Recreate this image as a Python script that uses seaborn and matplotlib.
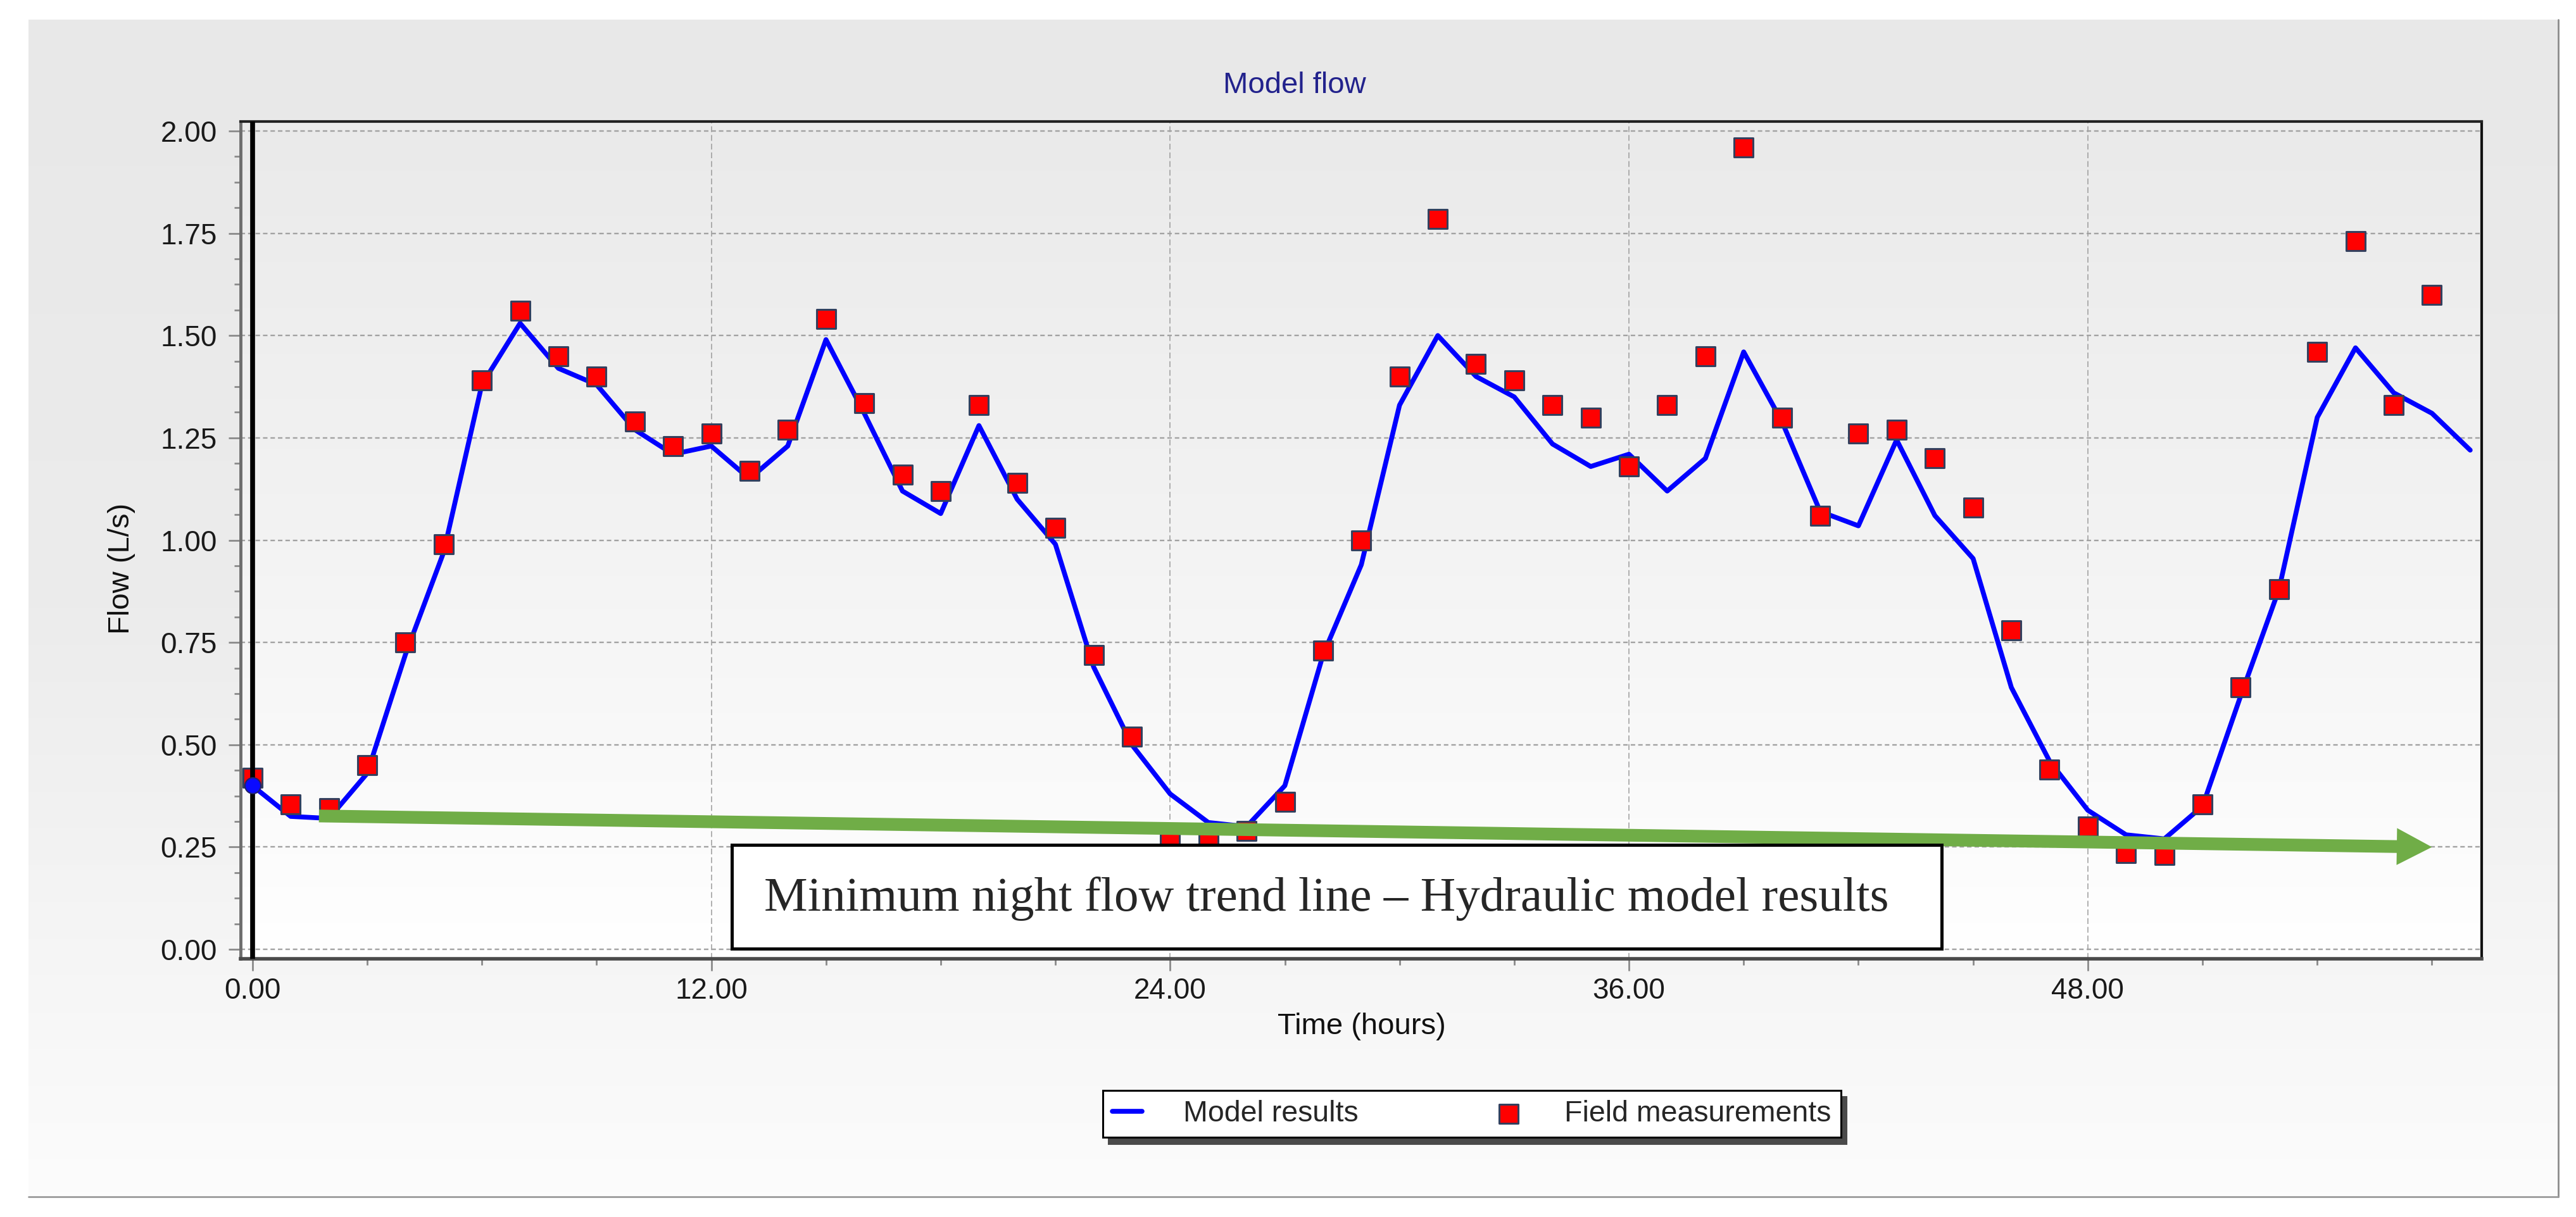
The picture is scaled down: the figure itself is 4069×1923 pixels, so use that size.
import numpy as np
import matplotlib
matplotlib.use("Agg")
import matplotlib.pyplot as plt
from matplotlib.patches import Rectangle, FancyArrowPatch
from matplotlib.colors import LinearSegmentedColormap
from matplotlib.ticker import MultipleLocator, FormatStrFormatter
import seaborn as sns

# Model results, hourly (L/s)
model_hours = list(range(59))
model_flow = [0.40, 0.325, 0.32, 0.43, 0.72, 0.97, 1.38, 1.53, 1.42, 1.38,
              1.27, 1.21, 1.23, 1.15, 1.23, 1.49, 1.31, 1.12, 1.065, 1.28,
              1.10, 0.99, 0.69, 0.50, 0.38, 0.31, 0.30, 0.40, 0.72, 0.94,
              1.33, 1.50, 1.40, 1.35, 1.235, 1.18, 1.21, 1.12, 1.20, 1.46,
              1.29, 1.07, 1.035, 1.245, 1.06, 0.955, 0.64, 0.46, 0.34, 0.28,
              0.27, 0.35, 0.62, 0.88, 1.30, 1.47, 1.36, 1.31, 1.22]

# Field measurements, hourly (L/s)
field_hours = list(range(58))
field_flow = [0.42, 0.355, 0.345, 0.45, 0.75, 0.99, 1.39, 1.56, 1.45, 1.40,
              1.29, 1.23, 1.26, 1.17, 1.27, 1.54, 1.335, 1.16, 1.12, 1.33,
              1.14, 1.03, 0.72, 0.52, 0.27, 0.27, 0.29, 0.36, 0.73, 1.00,
              1.40, 1.785, 1.43, 1.39, 1.33, 1.30, 1.18, 1.33, 1.45, 1.96,
              1.30, 1.06, 1.26, 1.27, 1.20, 1.08, 0.78, 0.44, 0.30, 0.235,
              0.23, 0.355, 0.64, 0.88, 1.46, 1.73, 1.33, 1.60]

# Minimum night flow trend line (start, end)
trend_hours = [1.74, 57.0]
trend_flow = [0.326, 0.25]

sns.set_style("ticks")
plt.rcParams["font.family"] = ["Liberation Sans", "DejaVu Sans"]

W, H = 4069, 1923
fig = plt.figure(figsize=(W / 100, H / 100), dpi=100)
fig.patch.set_facecolor("white")

# grey panel behind the chart
grad = np.linspace(0, 1, 256).reshape(-1, 1)
bg = fig.add_axes([0, 0, 1, 1], zorder=-10)
panel_cmap = LinearSegmentedColormap.from_list("panel", ["#e8e8e8", "#ececec", "#fcfcfc"])
bg.imshow(grad, cmap=panel_cmap, extent=(45, 4041, 1890, 31), aspect="auto")
bg.plot([4041, 4041], [31, 1891], color="#8c8c8c", lw=2)
bg.plot([45, 4041], [1891, 1891], color="#9a9a9a", lw=2)
bg.set_xlim(0, W)
bg.set_ylim(H, 0)
bg.axis("off")

# plot area
ax = fig.add_axes([380 / W, 1 - 1515 / H, (3920 - 380) / W, (1515 - 192) / H])
ax.set_facecolor("none")
axes_cmap = LinearSegmentedColormap.from_list("area", ["#eaeaea", "#f3f3f3", "#ffffff"])
ax.imshow(grad, cmap=axes_cmap, extent=(0, 1, 0, 1), transform=ax.transAxes,
          aspect="auto", zorder=0)

sns.lineplot(x=model_hours, y=model_flow, ax=ax, color="#0000ff", lw=5.5,
             label="Model results", zorder=3)
sns.scatterplot(x=field_hours, y=field_flow, ax=ax, marker="s", s=480,
                color="#ff0000", edgecolor="#34405e", linewidth=2.2,
                label="Field measurements", zorder=4)
ax.axvline(0, color="black", lw=5.5, zorder=4.5)
ax.plot(model_hours[:1], model_flow[:1], "o", ms=18, color="#0a0aff",
        mec="#20206a", mew=1.5, zorder=5)

# trend arrow
arrow = FancyArrowPatch((trend_hours[0], trend_flow[0]), (trend_hours[1], trend_flow[1]),
                        arrowstyle="simple,head_length=40,head_width=42,tail_width=14.5",
                        mutation_scale=1, color="#70ad47", lw=0,
                        shrinkA=0, shrinkB=0, zorder=6)
ax.add_patch(arrow)

# annotation box
ax.add_patch(Rectangle((0.2192, 0.0121), 0.5398, 0.124, transform=ax.transAxes,
                       facecolor="white", edgecolor="black", lw=3.6, zorder=7))
ax.text(0.4845, 0.072, "Minimum night flow trend line \u2013 Hydraulic model results",
        transform=ax.transAxes, ha="center", va="center", fontsize=55.5,
        family=["Liberation Serif", "DejaVu Serif"], zorder=8)

ax.set_xlim(-0.31, 58.3)
ax.set_ylim(-0.023, 2.023)
ax.xaxis.set_major_locator(MultipleLocator(12))
ax.xaxis.set_minor_locator(MultipleLocator(3))
ax.yaxis.set_major_locator(MultipleLocator(0.25))
ax.yaxis.set_minor_locator(MultipleLocator(0.0625))
ax.xaxis.set_major_formatter(FormatStrFormatter("%.2f"))
ax.yaxis.set_major_formatter(FormatStrFormatter("%.2f"))
ax.tick_params(which="major", length=14, width=2, color="#8a8a8a",
               labelsize=33, labelcolor="#1a1a1a", direction="out")
ax.tick_params(which="minor", length=7.5, width=2, color="#8a8a8a", direction="out")
ax.tick_params(axis="y", which="major", pad=13)
ax.tick_params(axis="x", which="major", pad=7)
ax.set_xlabel("")
ax.set_ylabel("")

ax.set_axisbelow(True)
ax.yaxis.grid(True, which="major", ls=(0, (3, 2)), color="#a2a2a2", lw=1.7)
ax.xaxis.grid(True, which="major", ls=(0, (6, 3)), color="#9b9b9b", lw=1.1)

ax.spines["top"].set(color="#222222", lw=3)
ax.spines["right"].set(color="#111111", lw=3)
ax.spines["bottom"].set(color="#4a4a4a", lw=4)
ax.spines["left"].set(color="#6e6e6e", lw=3.5)

# titles
fig.text(2045 / W, 1 - 135 / H, "Model flow", ha="center", va="center",
         fontsize=34, color="#22228c")
fig.text(192 / W, 1 - 898 / H, "Flow (L/s)", ha="center", va="center",
         rotation=90, fontsize=34, color="#111111")
fig.text(2151 / W, 1 - 1622 / H, "Time (hours)", ha="center", va="center",
         fontsize=34, color="#111111")

# legend below the plot
handles, labels = ax.get_legend_handles_labels()
if ax.get_legend() is not None:
    ax.get_legend().remove()
leg = fig.legend(handles, labels, loc="center", bbox_to_anchor=(2325 / W, 1 - 1760 / H),
                 ncol=2, fontsize=33.5, frameon=True, fancybox=False, edgecolor="black",
                 facecolor="white", framealpha=1, handlelength=1.0, handletextpad=1.4,
                 columnspacing=4.6, borderpad=0.32,
                 shadow={"ox": 6, "oy": -7, "color": "#4a4a4a", "alpha": 1})
leg.get_frame().set_linewidth(2.2)

plt.savefig("out.png", dpi=100)
